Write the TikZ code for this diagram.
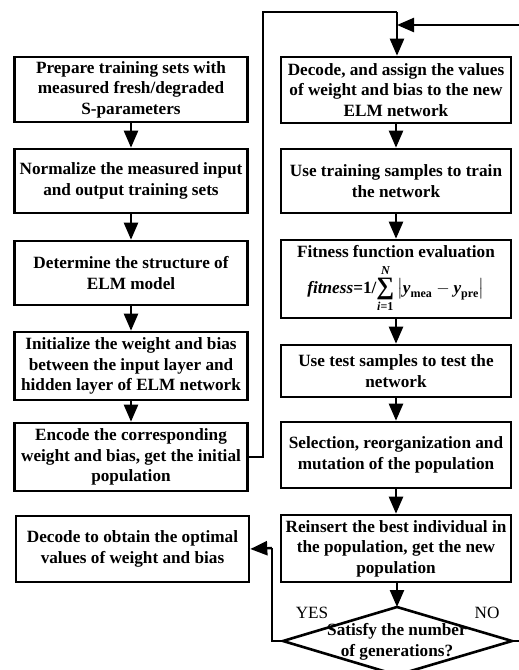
\documentclass[tikz,border=0pt]{standalone}
\usepackage{amsmath}
\usepackage{fontspec}
\setmainfont{Liberation Serif}
\usetikzlibrary{arrows.meta}
\newcommand{\bigsumsym}{\mathop{\vcenter{\hbox{\fontsize{25}{25}\selectfont\bfseries ∑}}}}
\begin{document}
\begin{tikzpicture}[x=1pt,y=-1pt,
  box/.style={draw,line width=2.6pt,align=center,inner sep=2pt,
    font=\bfseries\fontsize{17.2}{20.5}\selectfont},
  lbox/.style={box,minimum width=233pt},
  rbox/.style={box,minimum width=230pt},
  conn/.style={line width=2.4pt,-{Triangle[width=14pt,length=17pt]}},
  wire/.style={line width=2.4pt},
  lbl/.style={font=\fontsize{17.2}{20}\selectfont,inner sep=0pt}]
\useasboundingbox (0,0) rectangle (519,670);
% left column
\node[lbox,minimum height=65pt] (L1) at (131,89.5) {Prepare training sets with\\measured fresh/degraded\\S-parameters};
\node[lbox,minimum height=64pt] (L2) at (131,181) {Normalize the measured input\\and output training sets};
\node[lbox,minimum height=64pt] (L3) at (131,273) {Determine the structure of\\ELM model};
\node[lbox,minimum height=68pt] (L4) at (131,366) {Initialize the weight and bias\\between the input layer and\\hidden layer of ELM network};
\node[lbox,minimum height=68pt] (L5) at (131,457) {Encode the corresponding\\weight and bias, get the initial\\population};
\node[lbox,minimum height=66pt] (L6) at (132.5,549) {Decode to obtain the optimal\\values of weight and bias};
% right column
\node[rbox,minimum height=66pt] (R1) at (396,90) {Decode, and assign  the values\\of weight and bias to the new\\ELM network};
\node[rbox,minimum height=64pt] (R2) at (396,181) {Use training samples to train\\the network};
\node[rbox,minimum height=78pt] (R3) at (396,279) {Fitness function evaluation\\[6pt]{\itshape fitness}=1/$\displaystyle\bigsumsym\limits_{\text{\itshape i}\text{=1}}^{\text{\itshape N}}\left|\text{\itshape y}_{\text{mea}}-\text{\itshape y}_{\text{pre}}\right|$};
\node[rbox,minimum height=52pt] (R4) at (396,371) {Use test samples to test the\\network};
\node[rbox,minimum height=66pt] (R5) at (396,455) {Selection, reorganization and\\mutation of the population};
\node[rbox,minimum height=67pt] (R6) at (396,548.5) {Reinsert the best individual in\\the population, get the new\\population};
% decision diamond
\coordinate (DT) at (397,607);
\coordinate (DR) at (512,641);
\coordinate (DB) at (397,675);
\coordinate (DL) at (283,641);
\draw[line width=2.6pt,line join=miter] (DT) -- (DR) -- (DB) -- (DL) -- cycle;
\node[align=center,inner sep=0pt,font=\bfseries\fontsize{17.2}{20.5}\selectfont] (D) at (397,642) {Satisfy the number\\of generations?};
\node[lbl] (yes) at (312,613) {YES};
\node[lbl] (no) at (487,613) {NO};
% arrows
\draw[conn] (L1) -- (L2);
\draw[conn] (L2) -- (L3);
\draw[conn] (L3) -- (L4);
\draw[conn] (L4) -- (L5);
\draw[conn] (R1) -- (R2);
\draw[conn] (R2) -- (R3);
\draw[conn] (R3) -- (R4);
\draw[conn] (R4) -- (R5);
\draw[conn] (R5) -- (R6);
\draw[conn] (R6.south -| DT) -- (DT);
% loop from encode to decode/assign
\coordinate (la) at (263,12);
\coordinate (lb) at (397,12);
\draw[wire,line join=miter] (L5.east) -- (L5.east -| la) -- (la) -- (lb);
\draw[conn] (lb) -- (R1.north -| lb);
% NO feedback
\coordinate (fa) at (523,25);
\coordinate (fb) at (397,25);
\draw[wire,line join=miter] (DR) -- (DR -| fa) -- (fa) -- ([xshift=10pt]fb);
\draw[conn] ([xshift=12pt]fb) -- (fb);
% YES branch
\coordinate (ya) at (272,548);
\draw[wire,line join=miter] (DL) -- (DL -| ya) -- (ya);
\draw[conn] (ya) -- (L6.east);
\end{tikzpicture}
\end{document}
